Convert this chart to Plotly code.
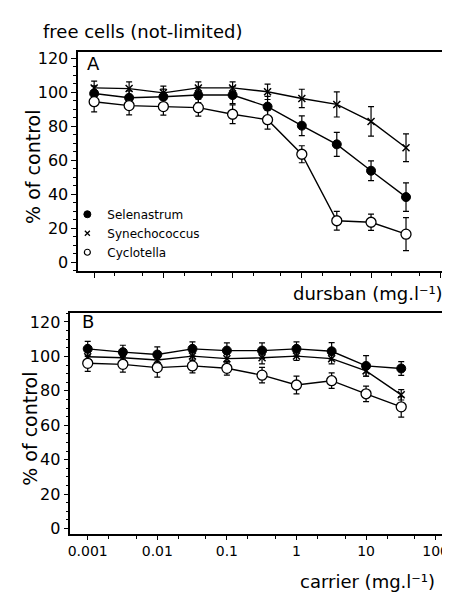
import plotly.graph_objects as go

# ---------------- data ----------------
conc = [0.001, 0.0032, 0.01, 0.032, 0.1, 0.32, 1.0, 3.2, 10.0, 32.0]

# Panel A: dursban (free cells, not-limited)
a_selen = [99.3, 96.8, 97.4, 98.4, 98.4, 91.6, 80.4, 69.4, 53.9, 38.4]
a_selen_err = [4.5, 4.0, 4.5, 4.5, 5.0, 6.0, 5.8, 7.0, 5.8, 8.4]
a_synech = [102.6, 102.2, 99.7, 102.6, 102.6, 100.3, 96.4, 92.9, 82.9, 67.4]
a_synech_err = [4.0, 4.0, 4.0, 3.5, 3.5, 4.5, 5.4, 7.4, 8.7, 8.2]
a_cyclo = [94.5, 92.2, 91.6, 91.0, 87.1, 83.9, 63.6, 24.5, 23.6, 16.6]
a_cyclo_err = [6.0, 5.5, 5.0, 5.0, 5.5, 5.5, 5.0, 5.5, 4.8, 9.7]

# Panel B: carrier
b_selen = [104.4, 102.5, 101.1, 104.4, 103.4, 103.4, 104.4, 103.0, 94.5, 93.0]
b_selen_err = [4.4, 4.0, 4.5, 4.0, 4.5, 4.5, 4.0, 5.0, 6.0, 4.0]
b_synech = [99.8, 99.2, 97.9, 100.2, 98.7, 99.2, 100.2, 98.7, 91.6, 77.7]
b_synech_err = [2.5, 2.5, 2.5, 2.5, 2.5, 3.5, 2.5, 3.0, 3.0, 3.0]
b_cyclo = [96.0, 95.4, 93.5, 94.5, 93.1, 89.1, 83.4, 85.9, 78.3, 70.7]
b_cyclo_err = [4.7, 4.5, 5.5, 4.0, 4.0, 4.5, 5.2, 4.5, 4.5, 6.0]

series_names = ["Selenastrum", "Synechococcus", "Cyclotella"]
x_tickvals = [0.001, 0.01, 0.1, 1, 10, 100]
x_ticktext = ["0.001", "0.01", "0.1", "1", "10", "100"]
y_tickvals = [0, 20, 40, 60, 80, 100, 120]

# ---------------- styles ----------------
W, H = 450, 593
FONT = "DejaVu Sans"
styles = {
    "Selenastrum": dict(symbol="circle", size=9, color="black", line=dict(color="black", width=1)),
    "Synechococcus": dict(symbol="x-thin", size=7, color="black", line=dict(color="black", width=1.5)),
    "Cyclotella": dict(symbol="circle", size=10, color="white", line=dict(color="black", width=1.3)),
}
legend_styles = {
    "Selenastrum": dict(symbol="circle", size=7, color="black", line=dict(color="black", width=1)),
    "Synechococcus": dict(symbol="x-thin", size=5, color="black", line=dict(color="black", width=1.3)),
    "Cyclotella": dict(symbol="circle", size=6, color="white", line=dict(color="black", width=1.2)),
}

fig = go.Figure()

def add_series(xa, ya, y, err, name):
    fig.add_trace(go.Scatter(
        x=conc, y=y, mode="lines+markers", name=name, showlegend=False,
        xaxis=xa, yaxis=ya,
        line=dict(color="black", width=1.4),
        marker=styles[name],
        error_y=dict(type="data", array=err, visible=True, color="black", thickness=1.2, width=3),
    ))

add_series("x", "y", a_synech, a_synech_err, "Synechococcus")
add_series("x", "y", a_selen, a_selen_err, "Selenastrum")
add_series("x", "y", a_cyclo, a_cyclo_err, "Cyclotella")
add_series("x2", "y2", b_synech, b_synech_err, "Synechococcus")
add_series("x2", "y2", b_selen, b_selen_err, "Selenastrum")
add_series("x2", "y2", b_cyclo, b_cyclo_err, "Cyclotella")

# legend-only entries (markers only, like the reference key)
for name in series_names:
    fig.add_trace(go.Scatter(x=[None], y=[None], mode="markers", name=name,
                             marker=legend_styles[name], xaxis="x", yaxis="y", showlegend=True))

def px_x(p):
    return p / W

def px_y(p):
    return 1 - p / H

axis_common = dict(
    showline=True, linecolor="black", linewidth=1.5, mirror=True,
    showgrid=False, zeroline=False, ticks="outside", tickcolor="black",
    tickfont=dict(family=FONT, size=16, color="black"),
)

fig.update_layout(
    width=W, height=H,
    margin=dict(l=0, r=0, t=0, b=0),
    paper_bgcolor="white", plot_bgcolor="white",
    font=dict(family=FONT, color="black"),
    xaxis=dict(axis_common, type="log", domain=[px_x(69), px_x(447)],
               range=[-3.23, 2.17], anchor="y",
               tickvals=x_tickvals, ticktext=x_ticktext, showticklabels=False,
               ticklen=5, minor=dict(ticks="outside", ticklen=3, tickcolor="black")),
    yaxis=dict(axis_common, domain=[px_y(263), px_y(41)], range=[-5, 124], anchor="x",
               tickvals=y_tickvals, ticklen=5,
               minor=dict(ticks="outside", ticklen=3, dtick=5, tickcolor="black")),
    xaxis2=dict(axis_common, type="log", domain=[px_x(61), px_x(441)],
                range=[-3.25, 2.15], anchor="y2",
                tickvals=x_tickvals, ticktext=x_ticktext,
                tickfont=dict(family=FONT, size=14, color="black"),
                ticklen=4, minor=dict(ticks="outside", ticklen=3, tickcolor="black")),
    yaxis2=dict(axis_common, domain=[px_y(529), px_y(306)], range=[-3, 125], anchor="x2",
                tickvals=y_tickvals, ticklen=5,
                minor=dict(ticks="outside", ticklen=3, dtick=5, tickcolor="black")),
    legend=dict(x=px_x(58), y=px_y(191), xanchor="left", yanchor="top",
                bgcolor="rgba(0,0,0,0)", font=dict(family=FONT, size=12, color="black"),
                tracegroupgap=0, itemwidth=30),
)

annos = [
    dict(text="free cells (not-limited)", x=px_x(31), y=px_y(21), xanchor="left", yanchor="middle",
         font=dict(size=18)),
    dict(text="A", x=px_x(84), y=px_y(53), xanchor="center", yanchor="middle", font=dict(size=18)),
    dict(text="B", x=px_x(79), y=px_y(314), xanchor="center", yanchor="middle", font=dict(size=18)),
    dict(text="dursban (mg.l⁻¹)", x=px_x(284), y=px_y(286), xanchor="left", yanchor="middle",
         font=dict(size=18)),
    dict(text="carrier (mg.l⁻¹)", x=px_x(291), y=px_y(577), xanchor="left", yanchor="middle",
         font=dict(size=18)),
    dict(text="% of control", x=px_x(23), y=px_y(158), xanchor="center", yanchor="middle",
         textangle=-90, font=dict(size=19)),
    dict(text="% of control", x=px_x(20), y=px_y(423), xanchor="center", yanchor="middle",
         textangle=-90, font=dict(size=19)),
]
for a in annos:
    a.update(xref="paper", yref="paper", showarrow=False)
    a["font"] = dict(family=FONT, color="black", size=a["font"]["size"])
    fig.add_annotation(**a)

fig.write_html("out.html")
